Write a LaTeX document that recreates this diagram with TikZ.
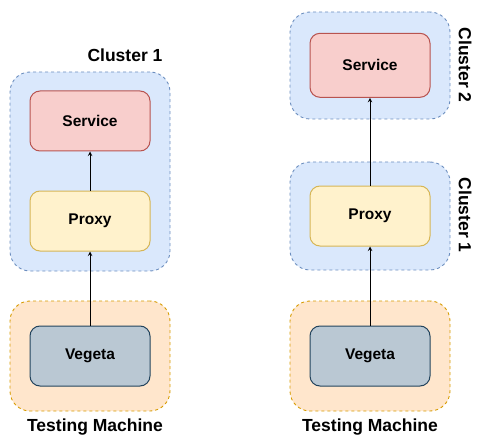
\documentclass[tikz,border=0pt]{standalone}
\usepackage{fontspec}
\setmainfont{Liberation Sans}
\usepackage{tikz}

\definecolor{clusterfill}{HTML}{DAE8FC}
\definecolor{clusterdraw}{HTML}{6C8EBF}
\definecolor{servicefill}{HTML}{F8CECC}
\definecolor{servicedraw}{HTML}{B85450}
\definecolor{proxyfill}{HTML}{FFF2CC}
\definecolor{proxydraw}{HTML}{D6B656}
\definecolor{testerfill}{HTML}{FFE6CC}
\definecolor{testerdraw}{HTML}{D79B00}
\definecolor{vegetafill}{HTML}{BAC8D3}
\definecolor{vegetadraw}{HTML}{23445D}

\begin{document}
\begin{tikzpicture}[x=1pt,y=-1pt]
                \useasboundingbox (0,0) rectangle (482,441);
                % outer boxes
                \begin{scope}[every node/.style={draw, dashed, line width=0.9pt, dash pattern=on 3pt off 3pt, rounded corners=20pt, minimum width=160pt, inner sep=0}]
                        \node [fill=clusterfill, draw=clusterdraw, minimum height=199pt] (C1) at (90,171.5) {};
                        \node [fill=testerfill, draw=testerdraw, minimum height=110pt] (T1) at (90,356) {};
                        \node [fill=clusterfill, draw=clusterdraw, minimum height=107pt] (C2b) at (370,65.5) {};
                        \node [fill=clusterfill, draw=clusterdraw, minimum height=108pt] (C1b) at (370,216) {};
                        \node [fill=testerfill, draw=testerdraw, minimum height=110pt] (T1b) at (370,356) {};
                \end{scope}
                % inner boxes
                \begin{scope}[every node/.style={draw, line width=1pt, rounded corners=10pt, minimum width=120pt, minimum height=60pt, inner sep=0, font=\fontsize{15.5}{18}\selectfont\bfseries}]
                        \node [fill=servicefill, draw=servicedraw] (S) at (90,121) {Service};
                        \node [fill=proxyfill, draw=proxydraw] (P) at (90,221) {Proxy};
                        \node [fill=vegetafill, draw=vegetadraw] (V) at (90,356) {Vegeta};
                        \node [fill=servicefill, draw=servicedraw, minimum height=64pt] (S2) at (370,65.3) {Service};
                        \node [fill=proxyfill, draw=proxydraw] (P2) at (370,216) {Proxy};
                        \node [fill=vegetafill, draw=vegetadraw] (V2) at (370,356) {Vegeta};
                \end{scope}
                % labels
                \begin{scope}[every node/.style={inner sep=0, font=\fontsize{17.5}{20}\selectfont\bfseries}]
                        \node (L1) at (125,55) {Cluster 1};
                        \node (LT) at (95,427) {Testing Machine};
                        \node [rotate=-90] (L2b) at (465,65) {Cluster 2};
                        \node [rotate=-90] (L1b) at (465,215) {Cluster 1};
                        \node (LTb) at (370,427) {Testing Machine};
                \end{scope}
                \begin{scope}[every path/.style={line width=1pt, ->, >=stealth}]
                        \path (V) edge (P);
                        \path (P) edge (S);
                        \path (V2) edge (P2);
                        \path (P2) edge (S2);
                \end{scope}
        \end{tikzpicture}
\end{document}
